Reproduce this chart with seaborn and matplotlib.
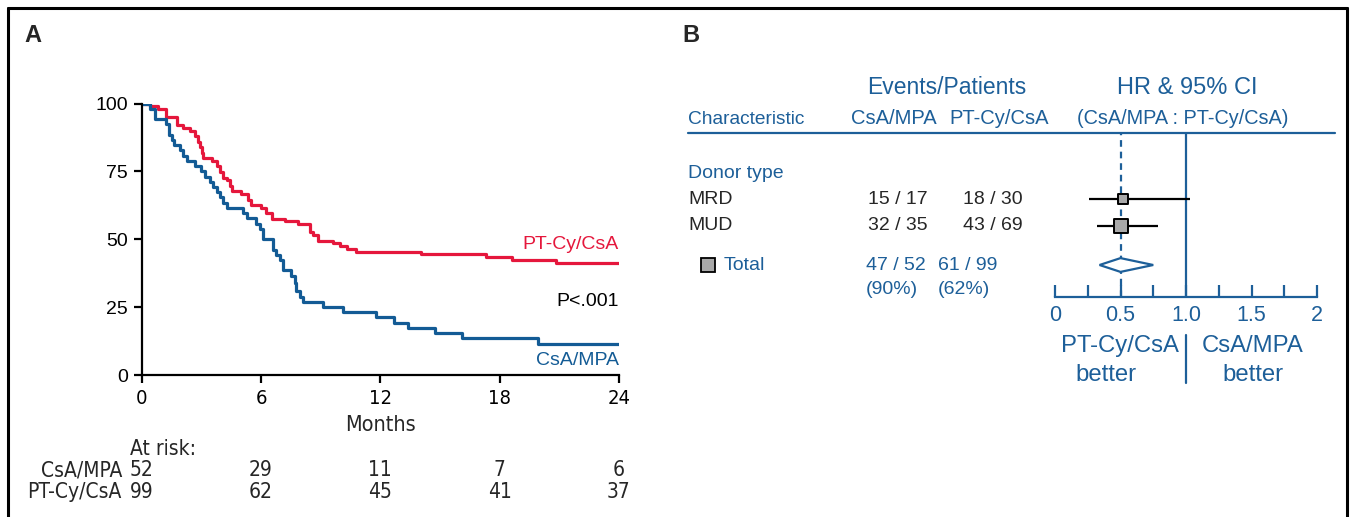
import matplotlib
matplotlib.use("Agg")
import matplotlib.pyplot as plt
from matplotlib.lines import Line2D
from matplotlib.ticker import MultipleLocator
import seaborn as sns
import pandas as pd

# ---- panel A: Kaplan-Meier steps (months, % surviving)
pt_time = [0, 0.41, 0.83, 1.24, 1.8, 2.1, 2.43, 2.68, 2.84, 2.95, 3.05, 3.1, 3.52, 3.77,
           3.94, 4.1, 4.27, 4.45, 4.52, 5.0, 5.35, 5.52, 6.02, 6.27, 6.55, 7.2, 7.86,
           8.45, 8.62, 8.87, 9.62, 9.96, 10.3, 10.8, 14.06, 17.3, 18.6, 20.85, 24]
pt_surv = [100, 99, 98, 94.9, 91.9, 90.9, 89.9, 87.9, 85.9, 83.8, 81.8, 79.8, 78.8, 76.8,
           74.7, 72.7, 71.7, 69.7, 67.7, 66.7, 64.6, 62.6, 61.6, 59.6, 57.6, 56.6, 55.6,
           52.5, 51.5, 49.5, 48.5, 47.5, 46.5, 45.4, 44.4, 43.4, 42.3, 41.1, 41.1]

csa_time = [0, 0.41, 0.66, 1.24, 1.35, 1.5, 1.6, 1.92, 2.09, 2.26, 2.7, 3.0, 3.18, 3.43,
            3.6, 3.77, 3.94, 4.1, 4.3, 5.1, 5.27, 5.77, 5.94, 6.1, 6.6, 6.77, 6.94, 7.1,
            7.53, 7.7, 7.78, 7.94, 8.1, 9.1, 10.1, 11.8, 12.7, 13.4, 14.75, 16.1, 19.95, 24]
csa_surv = [100, 98.1, 94.2, 92.3, 88.5, 86.5, 84.6, 82.7, 80.8, 78.8, 76.9, 75.0, 73.1, 71.2,
            69.2, 67.3, 65.4, 63.5, 61.5, 59.6, 57.7, 55.8, 53.8, 50.0, 46.2, 44.2, 42.3, 38.5,
            36.5, 33.8, 30.8, 28.8, 26.9, 25.0, 23.1, 21.2, 19.2, 17.3, 15.4, 13.5, 11.5, 11.5]

risk_months = [0, 6, 12, 18, 24]
risk_csa = [52, 29, 11, 7, 6]
risk_pt = [99, 62, 45, 41, 37]

# ---- panel B: forest plot
groups = ["MRD", "MUD"]
ev_csa = [15, 32]
n_csa = [17, 35]
ev_pt = [18, 43]
n_pt = [30, 69]
hr = [0.52, 0.50]
hr_lo = [0.26, 0.32]
hr_hi = [1.03, 0.79]
total_hr, total_lo, total_hi = 0.50, 0.34, 0.75
total_csa = (47, 52, 90)
total_pt = (61, 99, 62)

RED = "#e5173c"
BLUE = "#135b95"
TXT_BLUE = "#1d5f99"

W, H = 1353, 517


def px(x, y):
    return x / W, 1 - y / H


sns.set_style("white")
plt.rcParams["font.family"] = ["Liberation Sans", "DejaVu Sans"]
# condensed face for the month axis and the at-risk table
NARROW = dict(family="DejaVu Sans", fontstretch="condensed")

fig = plt.figure(figsize=(W / 100, H / 100), dpi=100)

# outer frame (open at the bottom)
for xs, ys in [((8, 8), (8, 517)), ((8, 1347), (8, 8)), ((1347, 1347), (8, 517))]:
    fig.add_artist(Line2D([x / W for x in xs], [1 - y / H for y in ys],
                          color="black", lw=2.2, transform=fig.transFigure))

fig.text(*px(24, 36), "A", fontsize=17, fontweight="bold", va="center", ha="left")
fig.text(*px(682, 36), "B", fontsize=17, fontweight="bold", va="center", ha="left")

# ---------------- panel A
axA = fig.add_axes([141.7 / W, 1 - 375 / H, (619 - 141.7) / W, (375 - 103.5) / H])
km = pd.concat([
    pd.DataFrame({"month": pt_time, "surv": pt_surv, "arm": "PT-Cy/CsA"}),
    pd.DataFrame({"month": csa_time, "surv": csa_surv, "arm": "CsA/MPA"}),
])
sns.lineplot(data=km, x="month", y="surv", hue="arm", estimator=None,
             palette={"PT-Cy/CsA": RED, "CsA/MPA": BLUE}, drawstyle="steps-post",
             lw=2.3, legend=False, ax=axA)
axA.set_xlim(0, 24)
axA.set_ylim(0, 100)
axA.set_xticks(risk_months)
axA.set_yticks([0, 25, 50, 75, 100])
axA.set_xlabel("Months", fontsize=15.5, labelpad=5, **NARROW)
axA.set_ylabel("")
for s in ["top", "right"]:
    axA.spines[s].set_visible(False)
for s in ["left", "bottom"]:
    axA.spines[s].set_linewidth(1.6)
    axA.spines[s].set_color("black")
axA.tick_params(axis="both", direction="out", length=6, width=1.6, colors="black",
                labelsize=14, pad=4, left=True, bottom=True)
axA.tick_params(axis="x", pad=4)
for lab in axA.get_xticklabels():
    lab.set_family(NARROW["family"])
    lab.set_stretch(NARROW["fontstretch"])
    lab.set_fontsize(14.5)
axA.text(24, 48.2, "PT-Cy/CsA", color=RED, fontsize=14, ha="right", va="center")
axA.text(24, 27, "P<.001", color="black", fontsize=14, ha="right", va="center")
axA.text(24, 5.5, "CsA/MPA", color=BLUE, fontsize=14, ha="right", va="center")

fig.text(*px(130, 449), "At risk:", fontsize=15, va="center", ha="left", **NARROW)
for lab, vals, y in [("CsA/MPA", risk_csa, 470), ("PT-Cy/CsA", risk_pt, 492)]:
    fig.text(*px(122, y), lab, fontsize=15, va="center", ha="right", **NARROW)
    for m, v in zip(risk_months, vals):
        xf = (141.7 + m / 24 * (619 - 141.7)) / W
        fig.text(xf, 1 - y / H, str(v), fontsize=15, va="center", ha="center", **NARROW)

# ---------------- panel B
fig.add_artist(Line2D([688 / W, 1335 / W], [1 - 133 / H] * 2, color=TXT_BLUE, lw=1.6,
                      transform=fig.transFigure))
fig.text(*px(947, 88), "Events/Patients", fontsize=16.5, color=TXT_BLUE, ha="center", va="center")
fig.text(*px(1187, 88), "HR & 95% CI", fontsize=17, color=TXT_BLUE, ha="center", va="center")
fig.text(*px(688, 119), "Characteristic", fontsize=13.8, color=TXT_BLUE, ha="left", va="center")
fig.text(*px(894, 119), "CsA/MPA", fontsize=14.5, color=TXT_BLUE, ha="center", va="center")
fig.text(*px(999, 119), "PT-Cy/CsA", fontsize=14.5, color=TXT_BLUE, ha="center", va="center")
fig.text(*px(1183, 119), "(CsA/MPA : PT-Cy/CsA)", fontsize=14.3, color=TXT_BLUE,
         ha="center", va="center")

fig.text(*px(688, 174), "Donor type", fontsize=14, color=TXT_BLUE, ha="left", va="center")
row_y = [199, 226]
for g, a, b, c, d, y in zip(groups, ev_csa, n_csa, ev_pt, n_pt, row_y):
    fig.text(*px(688, y), g, fontsize=14, ha="left", va="center")
    fig.text(*px(898, y), f"{a} / {b}", fontsize=14, ha="center", va="center")
    fig.text(*px(993, y), f"{c} / {d}", fontsize=14, ha="center", va="center")

fig.text(*px(724, 265), "Total", fontsize=14, color=TXT_BLUE, ha="left", va="center")
fig.add_artist(Line2D([708 / W], [1 - 265 / H], marker="s", ms=9.5, mfc="#a9a9a9",
                      mec="black", mew=1.3, transform=fig.transFigure))
fig.text(*px(866, 265), f"{total_csa[0]} / {total_csa[1]}", fontsize=14, color=TXT_BLUE,
         ha="left", va="center")
fig.text(*px(938, 265), f"{total_pt[0]} / {total_pt[1]}", fontsize=14, color=TXT_BLUE,
         ha="left", va="center")
fig.text(*px(866, 290), f"({total_csa[2]}%)", fontsize=14, color=TXT_BLUE, ha="left", va="center")
fig.text(*px(938, 290), f"({total_pt[2]}%)", fontsize=14, color=TXT_BLUE, ha="left", va="center")


def row(p):
    return (p - 173) / 26.5


axB = fig.add_axes([1055 / W, 1 - 297 / H, (1317 - 1055) / W, (297 - 133) / H])
axB.set_xlim(0, 2)
axB.set_ylim(row(297), row(133))
axB.patch.set_alpha(0)
for s in ["top", "left", "right"]:
    axB.spines[s].set_visible(False)
axB.spines["bottom"].set_color(TXT_BLUE)
axB.spines["bottom"].set_linewidth(1.6)
axB.set_yticks([])
axB.xaxis.set_minor_locator(MultipleLocator(0.25))
axB.set_xticks([0, 0.5, 1.0, 1.5, 2])
axB.set_xticklabels(["0", "0.5", "1.0", "1.5", "2"])
axB.tick_params(axis="x", which="both", direction="in", length=9, width=1.6,
                color=TXT_BLUE, labelcolor=TXT_BLUE, labelsize=15.5, pad=6, bottom=True)

axB.axvline(1.0, color=TXT_BLUE, lw=1.6)
axB.axvline(total_hr, color=TXT_BLUE, lw=1.6, ls=(0, (3, 2.2)))
axB.plot([1.0, 1.0], [row(335), row(383)], color=TXT_BLUE, lw=1.6, clip_on=False)

ys = [row(y) for y in row_y]
axB.hlines(ys, hr_lo, hr_hi, color="black", lw=1.6)
forest = pd.DataFrame({"hr": hr, "y": ys, "size": [45, 90]})
for _, r in forest.iterrows():
    sns.scatterplot(x=[r["hr"]], y=[r["y"]], marker="s", s=r["size"], color="#a9a9a9",
                    edgecolor="black", linewidth=1.4, zorder=3, legend=False, ax=axB)
yt = row(265)
axB.fill([total_lo, total_hr, total_hi, total_hr, total_lo],
         [yt, yt - 0.26, yt, yt + 0.26, yt], facecolor="white", edgecolor=TXT_BLUE,
         lw=1.6, zorder=3)
axB.set_xlabel("")
axB.set_ylabel("")

fig.text(*px(1179, 346), "PT-Cy/CsA", fontsize=17.2, color=TXT_BLUE, ha="right", va="center")
fig.text(*px(1106, 375), "better", fontsize=17.2, color=TXT_BLUE, ha="center", va="center")
fig.text(*px(1253, 346), "CsA/MPA", fontsize=17.2, color=TXT_BLUE, ha="center", va="center")
fig.text(*px(1253, 375), "better", fontsize=17.2, color=TXT_BLUE, ha="center", va="center")

fig.savefig("out.png", dpi=100)
